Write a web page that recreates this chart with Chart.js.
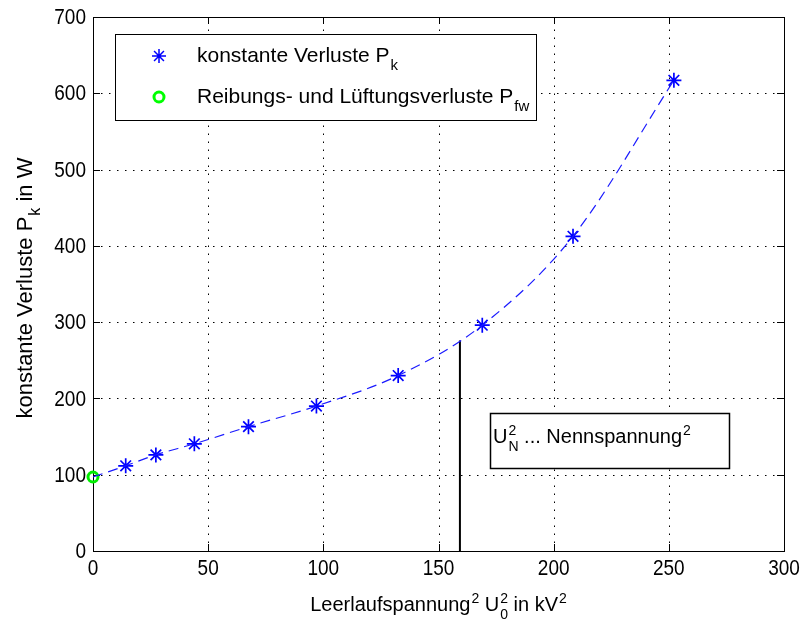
<!DOCTYPE html>
<html lang="de">
<head>
<meta charset="UTF-8">
<title>Konstante Verluste</title>
<script src="https://cdn.jsdelivr.net/npm/chart.js"></script>
<style>
  body { margin: 0; background: #fff; }
  #chart { display: block; }
</style>
</head>
<body>
<canvas id="chart" width="803" height="621"></canvas>
<script>
// measured points
const voltageSq = [14.2, 27.3, 44, 67.5, 97, 132.5, 169, 208.4, 252.2];
const constLoss = [111.7, 126, 140.5, 163, 190, 230, 296, 412.5, 617];
const frictionX = [0];
const frictionLoss = [97];
// marker for rated voltage
const ratedVoltageSq = 159.3;
const ratedLoss = 276;
const xTicks = [0, 50, 100, 150, 200, 250, 300];
const yTicks = [0, 100, 200, 300, 400, 500, 600, 700];

const FONT = '"Liberation Sans", Arial, sans-serif';
const font = size => size + 'px ' + FONT;

// text with stacked sub/superscripts, returns width
function richText(ctx, parts, x, y, size, dry) {
  const small = Math.round(size * 0.72);
  let cx = x;
  ctx.textAlign = 'left';
  ctx.textBaseline = 'alphabetic';
  for (const p of parts) {
    if (p.t) {
      ctx.font = font(size);
      if (!dry) ctx.fillText(p.t, cx, y);
      cx += ctx.measureText(p.t).width;
    }
    let w = 0;
    ctx.font = font(small);
    if (p.sup) {
      if (!dry) ctx.fillText(p.sup, cx + 1, y - size * 0.42);
      w = ctx.measureText(p.sup).width;
    }
    if (p.sub) {
      if (!dry) ctx.fillText(p.sub, cx + 1, y + size * 0.38);
      w = Math.max(w, ctx.measureText(p.sub).width);
    }
    if (w) cx += w + 1;
  }
  return cx - x;
}

const xTitle = [{t: 'Leerlaufspannung', sup: '2'}, {t: ' U', sup: '2', sub: '0'}, {t: ' in kV', sup: '2'}];
const yTitle = [{t: 'konstante Verluste P', sub: 'k'}, {t: ' in W'}];
const legendRows = [
  {marker: 'star', parts: [{t: 'konstante Verluste P', sub: 'k'}]},
  {marker: 'circle', parts: [{t: 'Reibungs- und Lüftungsverluste P', sub: 'fw'}]}
];
const noteText = [{t: 'U', sup: '2', sub: 'N'}, {t: ' ... Nennspannung', sup: '2'}];

const matlabAxes = {
  id: 'matlabAxes',
  beforeDatasetsDraw(chart) {
    const {ctx, chartArea: a, scales: {x, y}} = chart;
    ctx.save();
    // dotted grid
    ctx.strokeStyle = '#000';
    ctx.lineWidth = 1;
    ctx.setLineDash([1.5, 6.5]);
    xTicks.forEach(v => {
      const px = Math.round(x.getPixelForValue(v)) + 0.5;
      ctx.beginPath(); ctx.moveTo(px, a.bottom); ctx.lineTo(px, a.top); ctx.stroke();
    });
    yTicks.forEach(v => {
      const py = Math.round(y.getPixelForValue(v)) + 0.5;
      ctx.beginPath(); ctx.moveTo(a.left, py); ctx.lineTo(a.right, py); ctx.stroke();
    });
    ctx.setLineDash([]);
    // box
    ctx.strokeRect(Math.round(a.left) + 0.5, Math.round(a.top) + 0.5,
      Math.round(a.right - a.left), Math.round(a.bottom - a.top));
    // inward ticks
    const len = 7;
    ctx.beginPath();
    xTicks.forEach(v => {
      const px = Math.round(x.getPixelForValue(v)) + 0.5;
      ctx.moveTo(px, a.bottom); ctx.lineTo(px, a.bottom - len);
      ctx.moveTo(px, a.top); ctx.lineTo(px, a.top + len);
    });
    yTicks.forEach(v => {
      const py = Math.round(y.getPixelForValue(v)) + 0.5;
      ctx.moveTo(a.left, py); ctx.lineTo(a.left + len, py);
      ctx.moveTo(a.right, py); ctx.lineTo(a.right - len, py);
    });
    ctx.stroke();

    // tick labels (slightly tall like the original)
    ctx.fillStyle = '#000';
    ctx.font = font(19);
    ctx.textBaseline = 'middle';
    ctx.textAlign = 'center';
    xTicks.forEach(v => {
      ctx.save();
      ctx.translate(x.getPixelForValue(v), a.bottom + 18);
      ctx.scale(1, 1.18);
      ctx.fillText(String(v), 0, 0);
      ctx.restore();
    });
    ctx.textAlign = 'right';
    yTicks.forEach(v => {
      ctx.save();
      ctx.translate(a.left - 7, y.getPixelForValue(v) + 1);
      ctx.scale(1, 1.18);
      ctx.fillText(String(v), 0, 0);
      ctx.restore();
    });

    // axis titles
    const wx = richText(ctx, xTitle, 0, 0, 20, true);
    richText(ctx, xTitle, (a.left + a.right) / 2 - wx / 2, a.bottom + 60, 20);
    const wy = richText(ctx, yTitle, 0, 0, 22, true);
    ctx.save();
    ctx.translate(32, (a.top + a.bottom) / 2 + 4);
    ctx.rotate(-Math.PI / 2);
    richText(ctx, yTitle, -wy / 2, 0, 22);
    ctx.restore();
    ctx.restore();
  },
  afterDatasetsDraw(chart) {
    const {ctx, chartArea: a, scales: {x, y}} = chart;
    ctx.save();
    ctx.lineWidth = 1;
    ctx.strokeStyle = '#000';
    ctx.fillStyle = '#000';

    // legend
    const lx = a.left + 22, ly = a.top + 17, lw = 421, lh = 86;
    ctx.fillStyle = '#fff';
    ctx.fillRect(lx, ly, lw, lh);
    ctx.strokeRect(lx + 0.5, ly + 0.5, lw, lh);
    legendRows.forEach((row, i) => {
      const cy = ly + 22 + i * 41;
      const mx = lx + 44;
      if (row.marker === 'star') {
        ctx.strokeStyle = '#0000ff';
        ctx.lineWidth = 1.5;
        Chart.helpers.drawPoint(ctx, {pointStyle: 'star', radius: 7, borderWidth: 1.5}, mx, cy);
      } else {
        ctx.strokeStyle = '#00ff00';
        ctx.lineWidth = 3;
        ctx.beginPath(); ctx.arc(mx, cy, 5, 0, Math.PI * 2); ctx.stroke();
      }
      ctx.fillStyle = '#000';
      richText(ctx, row.parts, lx + 82, cy + 6, 21);
    });

    // note box for rated voltage
    const bx0 = Math.round(x.getPixelForValue(172.5)), bx1 = Math.round(x.getPixelForValue(276));
    const by0 = Math.round(y.getPixelForValue(181)), by1 = Math.round(y.getPixelForValue(109));
    ctx.fillStyle = '#fff';
    ctx.fillRect(bx0, by0, bx1 - bx0, by1 - by0);
    ctx.strokeStyle = '#000';
    ctx.lineWidth = 1.5;
    ctx.strokeRect(bx0 + 0.5, by0 + 0.5, bx1 - bx0, by1 - by0);
    ctx.fillStyle = '#000';
    richText(ctx, noteText, bx0 + 3, by0 + 30, 20);
    ctx.restore();
  }
};

const fitPoints = frictionX.map((v, i) => ({x: v, y: frictionLoss[i]}))
  .concat(voltageSq.map((v, i) => ({x: v, y: constLoss[i]})));

new Chart(document.getElementById('chart'), {
  type: 'scatter',
  data: {
    datasets: [
      {
        data: fitPoints,
        showLine: true,
        borderColor: '#1a1aff',
        borderWidth: 1.2,
        borderDash: [10, 6],
        pointRadius: 0,
        cubicInterpolationMode: 'monotone'
      },
      {
        data: [{x: ratedVoltageSq, y: 0}, {x: ratedVoltageSq, y: ratedLoss}],
        showLine: true,
        borderColor: '#000',
        borderWidth: 2,
        pointRadius: 0
      },
      {
        data: voltageSq.map((v, i) => ({x: v, y: constLoss[i]})),
        pointStyle: 'star',
        pointRadius: 7.5,
        pointBorderWidth: 1.7,
        borderColor: '#0000ff',
        clip: false
      },
      {
        data: frictionX.map((v, i) => ({x: v, y: frictionLoss[i]})),
        pointStyle: 'circle',
        pointRadius: 5,
        pointBorderWidth: 3,
        borderColor: '#00ee00',
        backgroundColor: 'rgba(0,0,0,0)',
        clip: false
      }
    ]
  },
  options: {
    responsive: false,
    animation: false,
    layout: {padding: {top: 17, right: 19, left: 0, bottom: 0}},
    plugins: {legend: {display: false}, tooltip: {enabled: false}},
    scales: {
      x: {
        type: 'linear', min: 0, max: 300,
        ticks: {display: false, stepSize: 50},
        grid: {display: false}, border: {display: false},
        afterFit: s => { s.height = 70; }
      },
      y: {
        type: 'linear', min: 0, max: 700,
        ticks: {display: false, stepSize: 100},
        grid: {display: false}, border: {display: false},
        afterFit: s => { s.width = 93; }
      }
    }
  },
  plugins: [matlabAxes]
});
</script>
</body>
</html>
